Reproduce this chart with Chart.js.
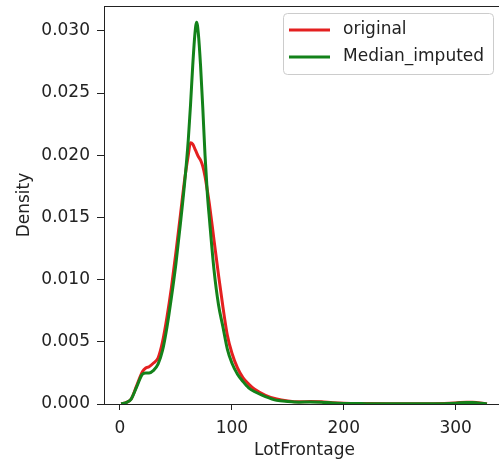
<!DOCTYPE html>
<html>
<head>
<meta charset="utf-8">
<script src="https://cdn.jsdelivr.net/npm/chart.js@4"></script>
<style>
  html, body { margin: 0; padding: 0; background: #fff; overflow: hidden; }
  #wrap { width: 499px; height: 467px; overflow: hidden; }
</style>
</head>
<body>
<div id="wrap"><canvas id="kdeChart" width="512" height="467"></canvas></div>
<script>
// KDE of LotFrontage: original vs median imputed

// x grid (LotFrontage) shared by both curves
const lotFrontage = [1, 5, 10, 15, 20, 23, 26, 30, 34, 38, 42, 46, 50, 54, 58, 61, 63, 65, 67, 68.5,
  70, 72, 74, 76, 78, 80, 84, 88, 92, 96, 100, 105, 110, 115, 120, 130, 140, 150, 160, 170,
  180, 190, 200, 220, 240, 260, 280, 300, 310, 315, 320, 328];

const originalDensity = [0.00002, 0.0001, 0.0004, 0.0015, 0.0026, 0.0029, 0.0030, 0.0033, 0.0037, 0.0050,
  0.0070, 0.0094, 0.0122, 0.0152, 0.0182, 0.0200, 0.0210, 0.0209, 0.0205, 0.0202,
  0.0199, 0.0196, 0.0191, 0.0183, 0.0172, 0.0160, 0.0132, 0.0104, 0.0078, 0.0055,
  0.0041, 0.0029, 0.0021, 0.0016, 0.0012, 0.0007, 0.0004, 0.00025, 0.00018, 0.0002,
  0.00018, 0.0001, 0.00006, 0.00004, 0.00003, 0.00003, 0.00003, 0.00008, 0.00015, 0.00015,
  0.0001, 0.00001];

const medianImputedDensity = [0.00002, 0.0001, 0.0004, 0.0014, 0.0024, 0.0025, 0.0025, 0.0027, 0.0032, 0.0043,
  0.0062, 0.0086, 0.0113, 0.0145, 0.0180, 0.0212, 0.0240, 0.0272, 0.0298, 0.0307,
  0.0298, 0.0272, 0.0238, 0.0200, 0.0170, 0.0148, 0.0108, 0.0080, 0.0062, 0.0044,
  0.0033, 0.0024, 0.0018, 0.0013, 0.0010, 0.0006, 0.0003, 0.0002, 0.00015, 0.00017,
  0.00015, 0.00008, 0.00005, 0.00003, 0.00002, 0.00002, 0.00002, 0.00007, 0.00013, 0.00013,
  0.00009, 0.00001];

const xTicks = [0, 100, 200, 300];
const yTicks = [0, 0.005, 0.010, 0.015, 0.020, 0.025, 0.030];

const textColor = '#222';
Chart.defaults.font.family = "'DejaVu Sans', sans-serif";
Chart.defaults.font.size = 17;
Chart.defaults.color = textColor;

function toPoints(ys) {
  return lotFrontage.map((x, i) => ({ x: x, y: ys[i] }));
}

// top/right spines
const framePlugin = {
  id: 'frame',
  afterDraw(chart) {
    const { ctx, chartArea } = chart;
    ctx.save();
    ctx.strokeStyle = textColor;
    ctx.lineWidth = 1;
    ctx.beginPath();
    ctx.moveTo(chartArea.left, chartArea.top + 0.5);
    ctx.lineTo(chartArea.right + 0.5, chartArea.top + 0.5);
    ctx.lineTo(chartArea.right + 0.5, chartArea.bottom);
    ctx.stroke();
    ctx.restore();
  }
};

// matplotlib-like legend box in the upper right
const legendBoxPlugin = {
  id: 'legendBox',
  afterDraw(chart) {
    const { ctx, chartArea } = chart;
    const w = 210, h = 61;
    const x = chartArea.right - 12 - w;
    const y = chartArea.top + 7;
    ctx.save();
    ctx.fillStyle = 'rgba(255,255,255,0.85)';
    ctx.strokeStyle = '#cccccc';
    ctx.lineWidth = 1;
    ctx.beginPath();
    ctx.roundRect(x + 0.5, y + 0.5, w, h, 4);
    ctx.fill();
    ctx.stroke();

    ctx.font = "17px 'DejaVu Sans', sans-serif";
    ctx.textBaseline = 'middle';
    chart.data.datasets.forEach((ds, i) => {
      const rowY = y + 17 + i * 27;
      ctx.strokeStyle = ds.borderColor;
      ctx.lineWidth = 3;
      ctx.beginPath();
      ctx.moveTo(x + 6, rowY);
      ctx.lineTo(x + 47, rowY);
      ctx.stroke();
      ctx.fillStyle = textColor;
      ctx.fillText(ds.label, x + 60, rowY);
    });
    ctx.restore();
  }
};

new Chart(document.getElementById('kdeChart'), {
  type: 'line',
  data: {
    datasets: [
      {
        label: 'original',
        data: toPoints(originalDensity),
        borderColor: '#e42020',
        borderWidth: 3,
        pointRadius: 0,
        cubicInterpolationMode: 'monotone',
        order: 1
      },
      {
        label: 'Median_imputed',
        data: toPoints(medianImputedDensity),
        borderColor: '#13821a',
        borderWidth: 3,
        pointRadius: 0,
        cubicInterpolationMode: 'monotone',
        order: 0
      }
    ]
  },
  options: {
    responsive: false,
    animation: false,
    devicePixelRatio: 1,
    layout: { padding: { left: 0, top: 6, right: 7, bottom: 0 } },
    plugins: {
      legend: { display: false },
      tooltip: { enabled: false }
    },
    scales: {
      x: {
        type: 'linear',
        min: -14.3,
        max: 344.1,
        afterBuildTicks: (scale) => { scale.ticks = xTicks.map(v => ({ value: v })); },
        afterFit: (scale) => {
          scale.height = 63;
          scale.paddingLeft = 0;
          scale.paddingRight = 0;
        },
        ticks: { padding: 8, maxRotation: 0, color: textColor, callback: (v) => String(v) },
        grid: { display: true, drawOnChartArea: false, drawTicks: true, tickLength: 6, color: textColor },
        border: { display: true, color: textColor, width: 1 },
        title: { display: true, text: 'LotFrontage', color: textColor, padding: { top: 0, bottom: 6 } }
      },
      y: {
        type: 'linear',
        min: 0,
        max: 0.0320,
        afterBuildTicks: (scale) => { scale.ticks = yTicks.map(v => ({ value: v })); },
        afterFit: (scale) => {
          scale.width = 104;
          scale.paddingTop = 0;
          scale.paddingBottom = 0;
        },
        ticks: { padding: 7, color: textColor, callback: (v) => v.toFixed(3) },
        grid: { display: true, drawOnChartArea: false, drawTicks: true, tickLength: 7, color: textColor },
        border: { display: true, color: textColor, width: 1 },
        title: { display: true, text: 'Density', color: textColor, padding: { top: 14, bottom: 0 } }
      }
    }
  },
  plugins: [framePlugin, legendBoxPlugin]
});
</script>
</body>
</html>
